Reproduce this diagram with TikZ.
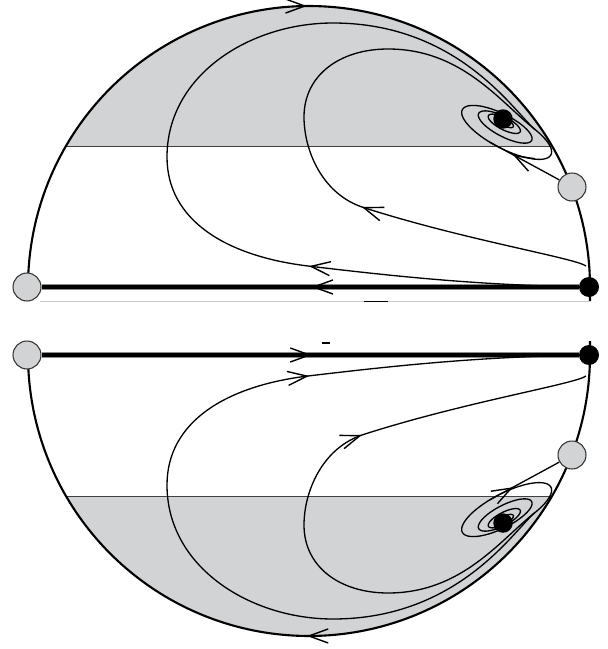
\documentclass[tikz,border=0pt]{standalone}
\usetikzlibrary{arrows.meta,decorations.markings}
\pgfdeclarelayer{fg}
\pgfsetlayers{main,fg}
\definecolor{shadecol}{RGB}{209,211,212}
\tikzset{
  traj/.style={line width=0.75pt, black},
  boundary/.style={line width=1.2pt, black},
  sepline/.style={line width=0.5pt, black!75},
  mainhalo/.style={line width=3.6pt, black!45},
  mainline/.style={line width=2.3pt, black},
  greypt/.style={circle, draw=black!80, line width=0.6pt, fill=shadecol, inner sep=0pt, minimum size=0.56cm},
  blackpt/.style={circle, fill=black, inner sep=0pt, minimum size=0.4cm},
  sinkpt/.style={circle, fill=black, inner sep=0pt, minimum size=0.39cm},
  barb/.tip={Straight Barb[length=11pt,width=8pt,line width=0.8pt]},
  fwd/.style={postaction={decorate,decoration={markings,mark=at position #1 with {\arrow{barb}}}}},
  bwd/.style={postaction={decorate,decoration={markings,mark=at position #1 with {\arrowreversed{barb}}}}}
}
% #1 = name suffix, #2 = fwd (top half) or bwd (bottom half)
\newcommand\halfdisk[2]{%
  \begin{pgfonlayer}{fg}
    \node[greypt]  (L#1) at (27,287)  {};
    \node[blackpt] (R#1) at (589,287) {};
    \node[greypt]  (G#1) at (572,187) {};
    \node[sinkpt]  (S#1) at (503,119) {};
  \end{pgfonlayer}
  \coordinate (ts#1) at (535.4,129.8);
  \coordinate (tg#1) at (489.7,142.1);
  \coordinate (tb#1) at (586,266);
  % shaded cap
  \fill[shadecol] plot[domain=30.12:149.88,samples=80] ({309+281*cos(\x)},{287-281*sin(\x)}) -- cycle;
  \draw[sepline] (66.2,146) -- (551.8,146);
  % boundary
  \draw[boundary,#2=250pt] plot[domain=180:0,samples=150] ({309+281*cos(\x)},{287-281*sin(\x)}) -- (590,301);
  % invariant line
  \draw[mainhalo] (R#1) -- (L#1);
  \draw[mainline,#2=152pt] (R#1) -- (L#1);
  % outer trajectory
  \draw[traj,#2=154pt] (R#1) .. controls (480,285) and (400,277) .. (308,266)
     .. controls (225.6,256) and (167,220) .. (167,157)
     .. controls (167,75) and (250,23) .. (333,23)
     .. controls (460,23) and (515.7,114.4) .. (ts#1);
  % inner trajectory
  \draw[traj,#2=132pt] (tb#1) .. controls (575,258) and (465,240) .. (365,208)
     .. controls (322,195) and (304,150) .. (304,117)
     .. controls (304,75) and (340,49) .. (388,49)
     .. controls (462,49) and (500,102) .. (ts#1);
  % trajectory from the grey point
  \draw[traj,#2=30pt] (G#1) .. controls (545,172) and (507.2,151.7) .. (tg#1);
  % spiral
  \draw[traj] plot[domain=-60:1200,samples=420,variable=\t]
     ({503+exp(-(\t+40)/700)*(-2.5+52.30*cos(\t)-9.08*sin(\t))},
      {119+exp(-(\t+40)/700)*(12.6+26.65*cos(\t)+17.82*sin(\t))});
}
\begin{document}
\begin{tikzpicture}[x=0.02cm,y=-0.02cm]
  \useasboundingbox (0,0) rectangle (608,649);
  \fill[white] (0,0) rectangle (608,649);
  \draw[line width=0.5pt, black!22] (40,301) -- (589,301);
  \draw[line width=1pt] (364,301.5) -- (388,301.5);
  \draw[line width=1pt] (322,343) -- (330,343);
  \begin{scope}
    \halfdisk{t}{fwd}
  \end{scope}
  \begin{scope}[shift={(0,642)},yscale=-1]
    \halfdisk{b}{bwd}
  \end{scope}
\end{tikzpicture}
\end{document}
